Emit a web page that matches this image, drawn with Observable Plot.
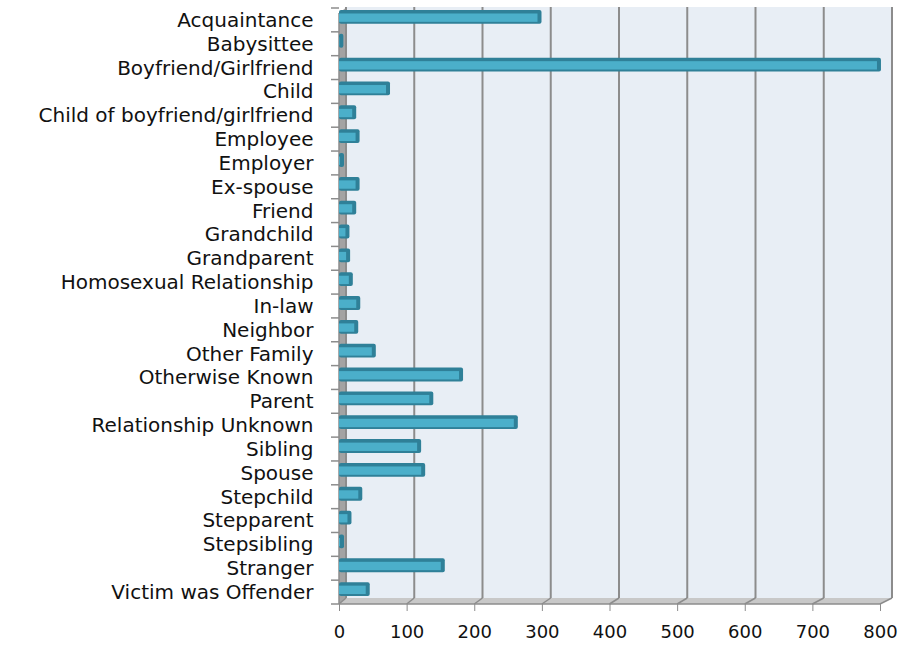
<!DOCTYPE html>
<html><head><meta charset="utf-8">
<script src="https://cdn.jsdelivr.net/npm/d3@7"></script>
<script src="https://cdn.jsdelivr.net/npm/@observablehq/plot@0.6"></script>
<style>body{margin:0;background:#fff;}</style>
</head><body><div id="chart"></div>
<script>
const categories = ["Acquaintance","Babysittee","Boyfriend/Girlfriend","Child","Child of boyfriend/girlfriend","Employee","Employer","Ex-spouse","Friend","Grandchild","Grandparent","Homosexual Relationship","In-law","Neighbor","Other Family","Otherwise Known","Parent","Relationship Unknown","Sibling","Spouse","Stepchild","Stepparent","Stepsibling","Stranger","Victim was Offender"];
const counts = [295,2,797,71,21,26,3,26,21,11,12,16,27,24,50,179,135,260,117,123,30,14,3,152,41];
const xTicks = [0,100,200,300,400,500,600,700,800];
const data = categories.map((c,i)=>({category:c, count:counts[i]}));
const DX = 7, DY = 6;

const backdrop = (index, scales, values, dim) => {
  const g = d3.create("svg:g");
  const x0 = scales.x(0), x1 = scales.x(800);
  const bx = t => scales.x(t) + DX + 5 * t / 800;
  const top = dim.marginTop - 1, bot = dim.height - dim.marginBottom;
  g.append("rect").attr("x", bx(0)).attr("y", top).attr("width", bx(800)-bx(0)).attr("height", bot-DY-top).attr("fill","#e8eef5");
  g.append("path").attr("d", `M${x0},${top+DY}L${x0+DX+1},${top}L${x0+DX+1},${bot-DY}L${x0},${bot}Z`).attr("fill","#a3a3a3");
  g.append("path").attr("d", `M${x0},${bot}L${bx(0)},${bot-DY}L${bx(800)},${bot-DY}L${x1},${bot}Z`).attr("fill","#c8c8c8");
  for (const t of xTicks) {
    const x = bx(t);
    g.append("line").attr("x1",x).attr("x2",x).attr("y1",top).attr("y2",bot-DY).attr("stroke","#8c8c8c").attr("stroke-width",2);
    g.append("line").attr("x1",scales.x(t)).attr("x2",x).attr("y1",bot).attr("y2",bot-DY).attr("stroke","#8c8c8c").attr("stroke-width",1.5);
  }
  g.append("line").attr("x1",x0).attr("x2",x0).attr("y1",top+DY).attr("y2",bot).attr("stroke","#8c8c8c").attr("stroke-width",1.5);
  for (let i=0;i<=categories.length;i++){
    const y = dim.marginTop + i*(bot-dim.marginTop)/categories.length;
    g.append("line").attr("x1",x0-8).attr("x2",x0).attr("y1",y).attr("y2",y).attr("stroke","#8c8c8c").attr("stroke-width",1.5);
  }
  g.append("line").attr("x1",x0).attr("x2",x1).attr("y1",bot).attr("y2",bot).attr("stroke","#8c8c8c").attr("stroke-width",1.5);
  return g.node();
};

const chart = Plot.plot({
  width: 918, height: 645,
  marginLeft: 339, marginRight: 38, marginTop: 8, marginBottom: 41,
  style: {fontFamily: "'DejaVu Sans', sans-serif", background: "#ffffff"},
  x: {domain:[0,800], axis:null, label:null},
  y: {domain: categories, axis:null, padding:0, round:false, label:null},
  marks: [
    backdrop,
    Plot.barX(data, {y:"category", x:"count", fill:"#2f8098", insetTop:2, insetBottom:8, insetRight:-3, rx:2}),
    Plot.barX(data, {y:"category", x:"count", fill:"#4bafca", insetTop:5.5, insetBottom:10, insetRight:1}),
    Plot.axisY({tickSize:0, tickPadding:26, fontSize:20, anchor:"left", color:"#111", label:null}),
    Plot.axisX({ticks: xTicks, tickSize:7, tickPadding:14, fontSize:18, stroke:"#8c8c8c", color:"#111", label:null, tickFormat: d=>String(d)})
  ]
});
document.getElementById("chart").appendChild(chart);
</script></body></html>
